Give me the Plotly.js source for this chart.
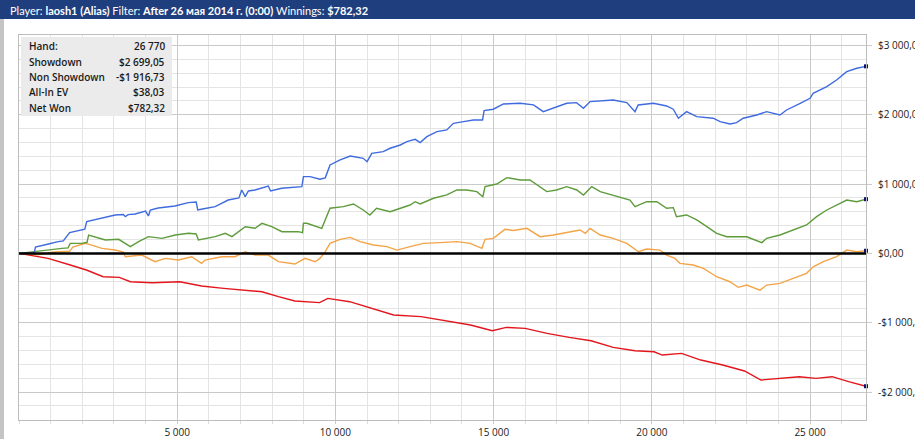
<!DOCTYPE html>
<html><head><meta charset="utf-8">
<script src="https://cdn.plot.ly/plotly-3.0.1.min.js"></script>
<style>html,body{margin:0;padding:0;background:#fff;overflow:hidden}</style>
</head><body><div id="chart" style="width:915px;height:439px"></div>
<script>
// ---- data (hands, cumulative $) ----
const showdownHands = [0,480,520,700,930,1240,1400,1600,1980,2080,2140,2620,3040,3300,3360,3450,3670,4000,4090,4150,4400,4930,5350,5600,5650,5800,6200,6610,6950,7040,7150,7250,7460,7880,7950,8300,8820,8940,8990,9200,9510,9680,9830,10150,10470,10880,11000,11150,11510,11730,12050,12260,12520,12680,12890,13210,13520,13730,14050,14360,14650,14700,14990,15310,15840,16260,16570,16890,17310,17620,17840,18050,18370,18780,19210,19470,19570,20050,20470,20680,20840,21100,21420,21940,22160,22470,22680,22890,23320,23630,24050,24260,24690,25000,25100,25530,25840,26160,26480,26770];
const showdownValues = [0,5,90,105,135,170,180,300,338,350,458,506,554,560,530,560,569,610,540,626,655,684,732,740,626,640,674,770,800,915,818,900,915,972,900,939,963,963,1107,1107,1069,1090,1276,1348,1405,1372,1323,1444,1468,1517,1564,1612,1646,1598,1684,1757,1781,1877,1901,1925,1925,2060,2080,2156,2166,2142,2045,2094,2166,2175,2094,2190,2204,2214,2175,2045,2142,2166,2127,2080,1950,2045,1973,1950,1901,1867,1886,1950,1997,2045,1997,2069,2166,2238,2310,2406,2502,2622,2671,2699.05];

const netWonHands = [0,500,830,1360,1550,1620,1990,2150,2200,2400,2730,3150,3360,3520,3780,4090,4520,4940,5360,5600,5670,6200,6520,6730,7150,7460,7680,7990,8310,8830,8960,8990,9100,9410,9570,9830,10250,10570,10880,11090,11300,11730,12050,12360,12520,12680,13100,13520,13840,14150,14470,14660,14730,15100,15420,15840,16150,16470,16680,16990,17310,17630,17840,18050,18100,18370,18780,19310,19470,19840,20160,20470,20680,20780,21100,21420,21740,22050,22370,22790,23000,23480,23630,24050,24470,24890,25210,25530,25950,26160,26480,26770];
const netWonValues = [0,30,48,73,80,145,145,160,265,240,193,203,145,97,169,241,217,265,290,280,193,241,290,241,385,362,434,385,313,313,300,434,434,385,362,651,674,713,626,554,651,602,651,698,746,713,795,843,915,915,891,818,963,1001,1093,1059,1059,963,891,915,963,915,843,939,963,891,843,770,674,746,746,651,660,530,554,482,385,290,241,245,240,155,217,265,338,410,530,626,723,770,746,782.32];

const allInHands = [0,600,1100,1600,1700,2090,2300,2620,3040,3300,3360,3880,4300,4620,5040,5460,5770,5880,6410,6830,7150,7460,7880,8200,8720,9040,9360,9510,9680,9830,10150,10470,10780,11200,11630,11940,12360,12780,13310,13840,14260,14630,14730,14990,15360,15630,16050,16470,16890,17420,17730,17900,18050,18370,18780,19210,19580,19840,20260,20470,20730,20890,21310,21630,22050,22470,22730,23000,23420,23630,24050,24470,24890,25100,25420,25840,26160,26480,26770];
const allInValues = [0,-20,20,30,90,145,120,73,48,20,-48,-24,-120,-72,-96,-48,-144,-96,-48,-48,24,-24,-24,-120,-153,-72,-120,-72,24,145,203,231,169,121,97,48,97,145,155,169,145,73,203,217,347,330,362,241,265,313,338,290,362,265,217,145,24,63,48,-24,-72,-144,-168,-216,-337,-409,-490,-457,-530,-457,-433,-361,-288,-193,-120,-48,48,24,38.03];

const nonShowdownHands = [0,920,1620,2130,2660,3170,3520,4210,5080,5770,6470,6990,7680,8200,8720,9500,9760,10450,11150,11840,12710,13580,14270,14960,15400,16000,16690,17390,18080,18780,19470,20070,20330,20940,21550,22240,22930,23450,23970,24660,25190,25700,26220,26770];
const nonShowdownValues = [0,-72,-168,-240,-337,-346,-409,-423,-409,-471,-505,-530,-553,-625,-687,-711,-649,-697,-793,-889,-913,-986,-1034,-1115,-1067,-1082,-1154,-1212,-1260,-1356,-1405,-1419,-1467,-1443,-1539,-1611,-1697,-1827,-1803,-1779,-1803,-1779,-1851,-1916.73];

const statLabels = ["Hand:","Showdown","Non Showdown","All-In EV","Net Won"];
const statValues = ["26 770","$2 699,05","-$1 916,73","$38,03","$782,32"];
const xTickVals = [5000,10000,15000,20000,25000];
const xTickText = ["5 000","10 000","15 000","20 000","25 000"];
const yTickVals = [3000,2000,1000,0,-1000,-2000];
const yTickText = ["$3 000,00","$2 000,00","$1 000,00","$0,00","-$1 000,00","-$2 000,00"];
const headerText = "Player: <b>laosh1 (Alias)</b> Filter: <b>After 26 мая 2014 г. (0:00)</b> Winnings: <b>$782,32</b>";

// ---- layout geometry (pixels) ----
const W = 915, H = 439, L = 19, R = 866, T = 35, B = 420;
const px = x => (x - L) / (R - L);
const py = y => (B - y) / (B - T);

function lineTrace(xs, ys, color) {
  return {x: xs, y: ys, type: 'scatter', mode: 'lines', line: {color: color, width: 1.4}, hoverinfo: 'skip', showlegend: false};
}
const series = [
  [nonShowdownHands, nonShowdownValues, '#E2161C'],
  [allInHands, allInValues, '#F4A448'],
  [netWonHands, netWonValues, '#5E9B3B'],
  [showdownHands, showdownValues, '#3F6BDF']
];
const traces = series.map(s => lineTrace(s[0], s[1], s[2]));
traces.push({
  x: series.map(s => s[0][s[0].length - 1]),
  y: series.map(s => s[1][s[1].length - 1]),
  type: 'scatter', mode: 'markers', cliponaxis: false,
  marker: {symbol: 'square', size: 4, color: '#10106E'}, hoverinfo: 'skip', showlegend: false
});

const annotations = [{
  xref: 'paper', yref: 'paper', x: px(8), y: py(10), xanchor: 'left', yanchor: 'middle',
  text: headerText, showarrow: false, font: {family: 'Lato, "Noto Sans", sans-serif', size: 11, color: '#ffffff'}
}];
const rowY = [46, 62.5, 77, 92, 107.5];
statLabels.forEach((lab, i) => {
  annotations.push({xref: 'paper', yref: 'paper', x: px(27), y: py(rowY[i]), xanchor: 'left', yanchor: 'middle',
    text: lab, showarrow: false, font: {family: '"Open Sans", sans-serif', size: 10, color: '#1a1a1a', weight: 600}});
  annotations.push({xref: 'paper', yref: 'paper', x: px(167), y: py(rowY[i]), xanchor: 'right', yanchor: 'middle',
    text: statValues[i], showarrow: false, font: {family: '"Open Sans", sans-serif', size: 10, color: '#1a1a1a', weight: 600}});
});

const shapes = [
  {type: 'rect', xref: 'paper', yref: 'paper', x0: px(0), x1: px(W), y0: py(0), y1: py(19), fillcolor: '#1F3E7E', line: {width: 0}, layer: 'above'},
  {type: 'rect', xref: 'paper', yref: 'paper', x0: px(0), x1: px(4), y0: py(19), y1: py(H), fillcolor: '#C4C4C4', line: {width: 0}, layer: 'above'},
  {type: 'rect', xref: 'paper', yref: 'paper', x0: px(21), x1: px(172), y0: py(37), y1: py(116), fillcolor: '#EBEBEB', line: {width: 0}, layer: 'above'},
  {type: 'line', xref: 'paper', yref: 'y', x0: 0, x1: 1, y0: 0, y1: 0, line: {color: '#000000', width: 2.5}, layer: 'above'}
];

const layout = {
  width: W, height: H,
  margin: {l: L, r: W - R, t: T, b: H - B, pad: 0},
  paper_bgcolor: '#ffffff', plot_bgcolor: '#ffffff',
  font: {family: '"Open Sans", sans-serif', size: 10, color: '#222'},
  xaxis: {
    range: [0, 26770], tickmode: 'array', tickvals: xTickVals, ticktext: xTickText,
    showgrid: true, gridcolor: '#C9C9C9', gridwidth: 1,
    ticks: 'outside', ticklen: 3, tickcolor: '#C9C9C9',
    minor: {tick0: 0, dtick: 1000, showgrid: true, gridcolor: '#E4E4E4', ticks: 'outside', ticklen: 3, tickcolor: '#DDDDDD'},
    showline: true, linecolor: '#BDBDBD', mirror: true, zeroline: false,
    tickfont: {size: 10, color: '#222'}, fixedrange: true
  },
  yaxis: {
    range: [-2404, 3151], side: 'right', tickmode: 'array', tickvals: yTickVals, ticktext: yTickText,
    showgrid: true, gridcolor: '#C9C9C9', gridwidth: 1,
    ticks: 'outside', ticklen: 5, tickcolor: '#C9C9C9',
    minor: {tick0: 0, dtick: 200, showgrid: true, gridcolor: '#E4E4E4'},
    showline: true, linecolor: '#BDBDBD', mirror: true, zeroline: false,
    tickfont: {size: 10, color: '#222'}, ticklabelstandoff: 4, fixedrange: true
  },
  shapes: shapes, annotations: annotations, showlegend: false
};
Plotly.newPlot('chart', traces, layout, {displayModeBar: false, staticPlot: true});
</script></body></html>
